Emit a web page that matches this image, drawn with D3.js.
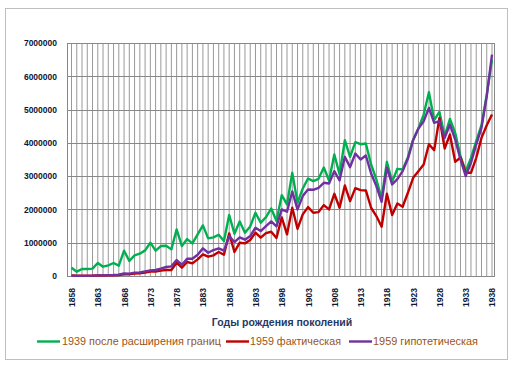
<!DOCTYPE html>
<html>
<head>
<meta charset="utf-8">
<script src="https://cdnjs.cloudflare.com/ajax/libs/d3/7.8.5/d3.min.js"></script>
<style>
  body { margin: 0; background: #fff; }
  svg { display: block; font-family: "Liberation Sans", Arial, sans-serif; }
</style>
</head>
<body>
<div id="chart"></div>
<script>
// годы рождения 1858..1938
var years = d3.range(1858, 1939);
var yTicks = [0, 1000000, 2000000, 3000000, 4000000, 5000000, 6000000, 7000000];
var xTickYears = d3.range(1858, 1939, 5);

var seriesNames = ["1939 после расширения границ", "1959 фактическая", "1959 гипотетическая"];
var seriesColors = ["#00b050", "#c00000", "#7030a0"];

var green = [
  250000, 130000, 210000, 210000, 220000, 390000, 280000, 320000, 390000, 310000,
  760000, 450000, 620000, 670000, 770000, 1000000, 760000, 900000, 910000, 800000,
  1400000, 900000, 1110000, 980000, 1250000, 1520000, 1130000, 1160000, 1240000, 1050000,
  1830000, 1270000, 1640000, 1300000, 1490000, 1900000, 1600000, 1770000, 2030000, 1650000,
  2430000, 2150000, 3100000, 2200000, 2630000, 2930000, 2850000, 2920000, 3260000, 2870000,
  3650000, 3060000, 4080000, 3580000, 4020000, 3960000, 3980000, 3350000, 2900000, 2330000,
  3430000, 2840000, 3220000, 3200000, 3570000, 4100000, 4430000, 4850000, 5520000, 4680000,
  4930000, 4200000, 4720000, 4300000, 3600000, 3150000, 3550000, 4050000, 4530000, 5450000,
  6500000
];
var red = [
  20000, 10000, 10000, 10000, 10000, 15000, 15000, 20000, 20000, 30000,
  50000, 50000, 70000, 80000, 100000, 130000, 130000, 160000, 180000, 180000,
  400000, 250000, 420000, 380000, 500000, 650000, 580000, 620000, 720000, 640000,
  1280000, 720000, 1000000, 980000, 1080000, 1300000, 1150000, 1290000, 1330000, 1140000,
  1760000, 1250000, 2050000, 1420000, 1850000, 2070000, 1900000, 1920000, 2130000, 2000000,
  2470000, 2050000, 2720000, 2250000, 2640000, 2580000, 2570000, 2050000, 1800000, 1480000,
  2470000, 1830000, 2180000, 2080000, 2500000, 2950000, 3150000, 3350000, 3960000, 3780000,
  4750000, 3830000, 4250000, 3430000, 3560000, 3100000, 3100000, 3550000, 4150000, 4530000,
  4850000
];
var purple = [
  10000, 5000, 5000, 5000, 10000, 20000, 20000, 25000, 30000, 40000,
  80000, 70000, 100000, 110000, 140000, 170000, 180000, 220000, 270000, 290000,
  480000, 340000, 520000, 520000, 640000, 830000, 700000, 780000, 830000, 760000,
  1200000, 1020000, 1160000, 1090000, 1200000, 1450000, 1350000, 1500000, 1640000, 1490000,
  2000000, 1930000, 2540000, 2000000, 2400000, 2600000, 2590000, 2650000, 2800000, 2780000,
  3150000, 2870000, 3580000, 3270000, 3680000, 3500000, 3620000, 3080000, 2700000, 2230000,
  3260000, 2750000, 2910000, 3150000, 3520000, 4080000, 4430000, 4650000, 5050000, 4600000,
  4650000, 4150000, 4550000, 4100000, 3500000, 3000000, 3400000, 3950000, 4450000, 5400000,
  6650000
];
var seriesValues = [green, red, purple];

var width = 516, height = 365;
var plot = {left: 67, right: 494, top: 43, bottom: 276};

var svg = d3.select("#chart").append("svg")
  .attr("width", width)
  .attr("height", height);

// рамка диаграммы
svg.append("rect")
  .attr("x", 5.5).attr("y", 8.5)
  .attr("width", 502).attr("height", 351)
  .attr("fill", "#fff")
  .attr("stroke", "#bfbfbf");

var x = d3.scaleLinear()
  .domain([years[0], years[years.length - 1]])
  .range([71.5, 492]);
var y = d3.scaleLinear()
  .domain([0, 7000000])
  .range([plot.bottom, plot.top]);

// вертикальная сетка (каждый год)
svg.append("g")
  .selectAll("line")
  .data(years)
  .enter().append("line")
  .attr("x1", function(d){ return x(d); })
  .attr("x2", function(d){ return x(d); })
  .attr("y1", plot.top)
  .attr("y2", plot.bottom)
  .attr("stroke", "#999")
  .attr("stroke-width", 1);

// горизонтальная сетка
svg.append("g")
  .selectAll("line")
  .data(yTicks)
  .enter().append("line")
  .attr("x1", plot.left)
  .attr("x2", plot.right)
  .attr("y1", function(d){ return Math.round(y(d)) + 0.5; })
  .attr("y2", function(d){ return Math.round(y(d)) + 0.5; })
  .attr("stroke", "#888")
  .attr("stroke-width", 1);

svg.append("rect")
  .attr("x", plot.left + 0.5).attr("y", plot.top + 0.5)
  .attr("width", plot.right - plot.left).attr("height", plot.bottom - plot.top)
  .attr("fill", "none")
  .attr("stroke", "#888");

// ось Y
var yAxis = d3.axisLeft(y).tickValues(yTicks).tickSize(0).tickPadding(10)
  .tickFormat(d3.format("d"));
var gy = svg.append("g")
  .attr("transform", "translate(" + plot.left + ",0)")
  .call(yAxis);
gy.select(".domain").remove();
gy.selectAll("text")
  .attr("font-size", 8.5)
  .attr("font-weight", "bold")
  .attr("font-family", "Liberation Sans, Arial, sans-serif")
  .attr("fill", "#0d1733");

// ось X
var xAxis = d3.axisBottom(x).tickValues(xTickYears).tickSize(0).tickPadding(0)
  .tickFormat(d3.format("d"));
var gx = svg.append("g")
  .attr("transform", "translate(0," + plot.bottom + ")")
  .call(xAxis);
gx.select(".domain").remove();
gx.selectAll("text")
  .attr("transform", "rotate(-90)")
  .attr("text-anchor", "end")
  .attr("x", -12)
  .attr("y", 0)
  .attr("dy", "0.35em")
  .attr("font-size", 8.5)
  .attr("font-weight", "bold")
  .attr("font-family", "Liberation Sans, Arial, sans-serif")
  .attr("fill", "#0d1733");

svg.append("text")
  .attr("x", 282)
  .attr("y", 326)
  .attr("text-anchor", "middle")
  .attr("font-size", 10.5)
  .attr("font-weight", "bold")
  .attr("fill", "#1f3864")
  .text("Годы рождения поколений");

// линии серий
var line = d3.line()
  .x(function(d, i){ return x(years[i]); })
  .y(function(d){ return y(d); });

svg.append("g")
  .selectAll("path")
  .data(seriesValues)
  .enter().append("path")
  .attr("d", line)
  .attr("fill", "none")
  .attr("stroke", function(d, i){ return seriesColors[i]; })
  .attr("stroke-width", 2.4)
  .attr("stroke-linejoin", "round");

// легенда
var legend = [
  {lx: 37, tx: 62, tw: 159},
  {lx: 226, tx: 250, tw: 91},
  {lx: 349, tx: 373, tw: 105}
];
var lg = svg.append("g").selectAll("g")
  .data(seriesNames)
  .enter().append("g");
lg.append("line")
  .attr("x1", function(d, i){ return legend[i].lx; })
  .attr("x2", function(d, i){ return legend[i].lx + 23; })
  .attr("y1", 341.5).attr("y2", 341.5)
  .attr("stroke", function(d, i){ return seriesColors[i]; })
  .attr("stroke-width", 2.4);
lg.append("text")
  .attr("x", function(d, i){ return legend[i].tx; })
  .attr("y", 345)
  .attr("font-size", 10.5)
  .attr("fill", "#9a5418")
  .attr("textLength", function(d, i){ return legend[i].tw; })
  .attr("lengthAdjust", "spacingAndGlyphs")
  .text(function(d){ return d; });
</script>
</body>
</html>
